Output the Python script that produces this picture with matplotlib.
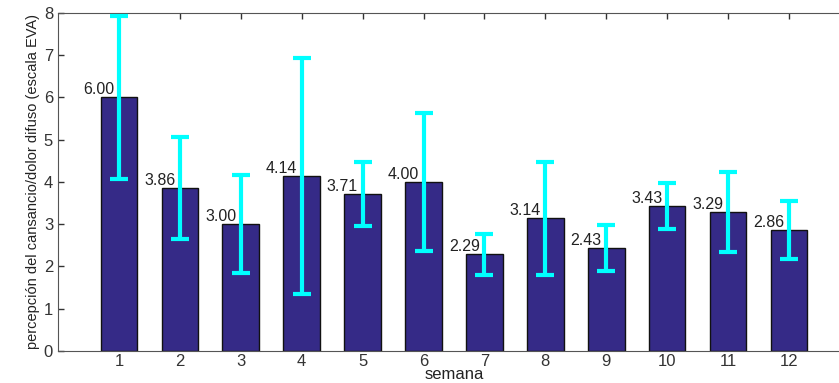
import numpy as np
import matplotlib
matplotlib.use("Agg")
from matplotlib import pyplot as plt

# weekly means and error bar half-widths
semanas = np.arange(1, 13)
medias = [6.00, 3.86, 3.00, 4.14, 3.71, 4.00, 2.29, 3.14, 2.43, 3.43, 3.29, 2.86]
errores = [1.93, 1.21, 1.16, 2.79, 0.76, 1.63, 0.49, 1.34, 0.54, 0.54, 0.95, 0.69]
etiquetas = ["%.2f" % m for m in medias]

plt.rcParams['font.family'] = ['Liberation Sans', 'DejaVu Sans']

fig = plt.figure(figsize=(8.39, 3.83), dpi=100)
# right edge of the axes falls outside the image, like the original crop
ax = fig.add_axes([0.0691, 0.0836, 0.944, 0.8825])

ax.bar(semanas, medias, width=0.6, color='#352a87', edgecolor='#111111', linewidth=1.0, zorder=2)
ax.errorbar(semanas, medias, yerr=errores, fmt='none', ecolor='#00ffff',
            elinewidth=3, capsize=6.5, capthick=3, zorder=3)

for x, y, t in zip(semanas, medias, etiquetas):
    ax.text(x - 0.33, y, t, ha='center', va='bottom', fontsize=11.5, color='#222222', zorder=4)

ax.set_xlim(0, 13)
ax.set_ylim(0, 8)
ax.set_xticks(semanas)
ax.set_yticks(range(0, 9))
ax.tick_params(direction='in', top=True, right=False, labelsize=12, colors='#333333',
               length=4, width=1)
ax.tick_params(axis='x', pad=2)
for s in ax.spines.values():
    s.set_color('#555555')
ax.set_xlabel('semana', fontsize=12, labelpad=-1, color='#222222')
ax.set_ylabel('percepción del cansancio/dolor difuso (escala EVA)', fontsize=10.5, labelpad=3, color='#222222')

fig.savefig('out.png', dpi=100)
